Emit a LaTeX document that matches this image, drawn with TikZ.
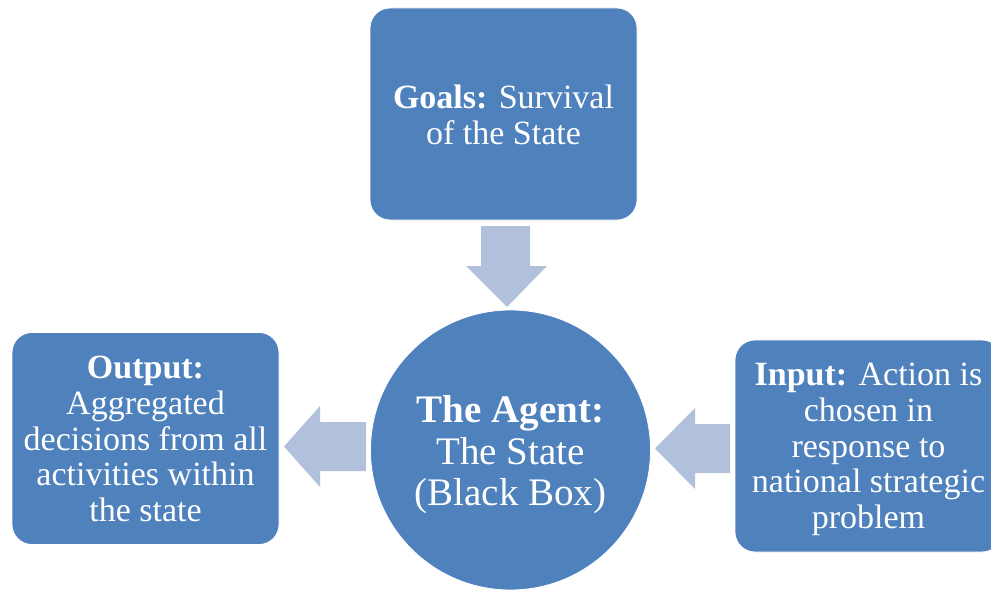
\documentclass[tikz,border=0pt]{standalone}
\usepackage{fontspec}
\setmainfont{Liberation Serif}
\definecolor{boxblue}{HTML}{4F81BD}
\definecolor{arrowblue}{HTML}{B1C1DC}
\begin{document}
\begin{tikzpicture}[x=1pt,y=-1pt,
  box/.style={draw=white,line width=0.8pt,fill=boxblue,rounded corners=20pt,
    minimum width=267pt,minimum height=212pt,inner sep=0pt},
  boxtext/.style={text=white,align=center,font=\fontsize{34}{35.7}\selectfont,inner sep=0pt},
  agent/.style={circle,draw=white,line width=0.8pt,fill=boxblue,minimum size=280pt,inner sep=0pt},
  agenttext/.style={text=white,align=center,font=\fontsize{39}{41.5}\selectfont,inner sep=0pt},
  blockarrow/.style={fill=arrowblue,draw=none}]
\useasboundingbox (0,0) rectangle (991,591);
\clip (0,0) rectangle (991,591);
\node[box] (goals) at (503.5,114) {};
\node[boxtext] (goalst) at (503.5,115) {\textbf{Goals:} Survival\\of the State};
\node[agent] (agent) at (510.5,450) {};
\node[agenttext] (agentt) at (510.5,455) {\textbf{The Agent:}\\The State\\(Black Box)};
\node[box] (output) at (145.5,438.5) {};
\node[boxtext] (outputt) at (145.5,439) {\textbf{Output:}\\Aggregated\\decisions from all\\activities within\\the state};
\node[box] (input) at (868.5,446) {};
\node[boxtext] (inputt) at (868.5,449.5) {\textbf{Input:} Action is\\chosen in\\response to\\national strategic\\problem};
% block arrows
\fill[blockarrow] (481,226) -- (530,226) -- (530,266) -- (547,266) -- (507,307)
  -- (466,266) -- (481,266) -- cycle;
\fill[blockarrow] (366,422) -- (366,471) -- (320,471) -- (320,487) -- (284,446.5)
  -- (320,406) -- (320,422) -- cycle;
\fill[blockarrow] (730,424) -- (730,473) -- (695,473) -- (695,489) -- (655,448.5)
  -- (695,408) -- (695,424) -- cycle;
\end{tikzpicture}
\end{document}
